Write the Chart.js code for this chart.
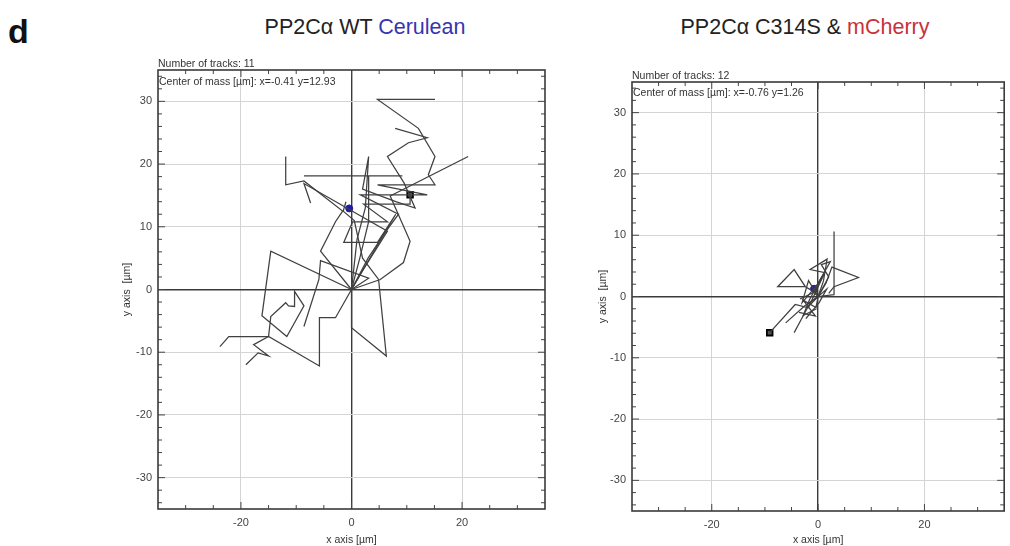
<!DOCTYPE html>
<html>
<head>
<meta charset="utf-8">
<script src="https://cdn.jsdelivr.net/npm/chart.js@4.4.1/dist/chart.umd.min.js"></script>
<style>
  body { margin:0; background:#fff; width:1010px; height:546px; position:relative; overflow:hidden;
         font-family:'Liberation Sans', Arial, sans-serif; }
  .lbl { position:absolute; white-space:nowrap; line-height:1; }
  #panel { left:8px; top:14px; font-size:34px; font-weight:bold; color:#111; }
  .title { top:17px; font-size:21.5px; color:#222; transform:translateX(-50%); }
  canvas { position:absolute; }
</style>
</head>
<body>
<div id="panel" class="lbl">d</div>
<div class="lbl title" style="left:365px">PP2Cα WT <span style="color:#3535b0">Cerulean</span></div>
<div class="lbl title" style="left:805px">PP2Cα C314S &amp; <span style="color:#c8323c">mCherry</span></div>
<canvas id="wtChart" width="443" height="506" style="left:117px;top:40px"></canvas>
<canvas id="mutChart" width="417" height="506" style="left:593px;top:40px"></canvas>
<script>
const xTicks = [-20, 0, 20];
const yTicks = [-30, -20, -10, 0, 10, 20, 30];

// WT Cerulean tracks, [x, y] in µm, every track starts at the origin
const wtTracks = [
  [[0,0],[3,5],[6,9],[8.5,12],[1.6,15.1],[13.7,15.1],[4.7,16.7],[15.1,16.7],[13.9,18.3],[15.1,21.2],[12.1,25.7],[4.7,30.3],[15.1,30.3]],
  [[0,0],[1,8],[2.5,13],[3.1,21.2],[2,16],[8,14],[11.5,13],[9.5,17],[6.5,21.2],[10.3,23.4],[13.7,24.2],[7.9,25.7]],
  [[0,0],[5.2,1.6],[9.4,4.3],[10.6,7.7],[7,14.9],[21.1,21.2]],
  [[0,0],[2,3],[6.5,9.3],[-8.6,16.9],[-7.4,13.8]],
  [[0,0],[-5.6,6.1],[-2.9,10.8],[-1.6,12.5],[-8.6,17.3],[-11.9,16.7],[-11.9,21.2]],
  [[0,0],[1.5,5],[3.1,10.8],[3.1,18.1],[9.2,18.1],[-8.6,18.1]],
  [[0,0],[8,12],[4.7,7.5],[-1.4,7.5],[0.2,10.8],[6.5,10.8],[2.2,13.6],[10.6,13.6],[10.6,15.1]],
  [[0,0],[-14.6,6.1],[-16.2,-4.2],[-11.7,-7.5],[-8.6,-2.6],[-10.3,-0.3],[-10.3,-2.7],[-11.4,-2.6],[-11.9,-2.1],[-14.6,-4.3],[-15,-7.5],[-22.2,-7.5],[-23.8,-9.1]],
  [[0,0],[-2.9,-4.5],[-5.8,-4.5],[-5.8,-12.2],[-15,-7.5],[-17.7,-8.8],[-15,-10.6],[-16.9,-10.1],[-19.1,-12]],
  [[0,0],[3.1,1.8],[-5.6,4.6],[-5.9,1.6],[-8.6,-5.9]],
  [[0,0],[0,-6.1],[6.3,-10.6],[4.9,1.6],[2,5],[0.5,11],[-1.5,12.5],[-1,14]]
];
const wtCenter = [-0.41, 12.93];
const wtEnd = [10.6, 15.1];

// C314S mCherry tracks
const mutTracks = [
  [[0,0],[-2,-1.8],[-4.3,-1.3],[-9.1,-5.9]],
  [[0,0],[-1.2,1],[-2.4,1.6],[-4.5,4.4],[-7.6,1.6],[-2.4,1.6]],
  [[0,0],[3,0.3],[3,10.6]],
  [[0,0],[1.5,2.2],[2.6,4.8],[7.6,3.1],[3,1.6],[2,0.5]],
  [[0,0],[-1.5,-1],[-3.2,-3.8],[-4.5,-5.9]],
  [[0,0],[-2.5,-1.5],[-6.1,-4.3]],
  [[0,0],[1,2.5],[1.7,6.1],[-1.5,4.4],[1.3,3.9],[-0.5,1.2]],
  [[0,0],[-0.4,-1.8],[-2.8,-0.6],[-0.5,-3.2],[-3.6,-2.6]],
  [[0,0],[2,3.2],[0.6,5.2],[2.3,5.7],[-1,0.6],[-3.4,-0.4]],
  [[0,0],[-1.8,2.6],[-3,-1],[0.6,2.7],[-1.9,-1.9]],
  [[0,0],[1.6,1.2],[0.2,-1],[-2.3,-3.6],[-1,-2.2]],
  [[0,0],[-0.5,1.4],[1,3.6],[-1.6,-0.5],[-2.8,-3.1],[-0.3,-2]]
];
const mutCenter = [-0.76, 1.26];
const mutEnd = [-9.1, -5.9];

const FONT = "'Liberation Sans', Arial, sans-serif";

// frame, inward ticks and the two info lines
const framePlugin = {
  id: 'frame',
  afterDraw(chart, args, opts) {
    const {ctx, chartArea: a, scales: {x, y}} = chart;
    ctx.save();
    ctx.strokeStyle = '#444';
    ctx.lineWidth = 1;
    ctx.beginPath();
    for (let v = -30; v <= 30; v += 5) {
      const px = x.getPixelForValue(v);
      const len = v % 20 === 0 ? 7 : 4;
      ctx.moveTo(px, a.bottom); ctx.lineTo(px, a.bottom - len);
      ctx.moveTo(px, a.top); ctx.lineTo(px, a.top + len);
    }
    for (let v = -34; v <= 34; v += 2) {
      const py = y.getPixelForValue(v);
      const len = v % 10 === 0 ? 7 : 4;
      ctx.moveTo(a.left, py); ctx.lineTo(a.left + len, py);
      ctx.moveTo(a.right, py); ctx.lineTo(a.right - len, py);
    }
    ctx.stroke();
    ctx.lineWidth = 1.6;
    ctx.strokeStyle = '#3a3a3a';
    ctx.strokeRect(a.left, a.top, a.right - a.left, a.bottom - a.top);
    ctx.fillStyle = '#333';
    ctx.font = '10.5px ' + FONT;
    ctx.textBaseline = 'alphabetic';
    ctx.fillText('Number of tracks: ' + opts.count, a.left, a.top - 3);
    ctx.fillText('Center of mass [µm]: x=' + opts.cx + ' y=' + opts.cy, a.left + 1, a.top + opts.dy);
    ctx.restore();
  }
};

function makeChart(id, tracks, center, end, pad, yWidth, xHeight, info) {
  const datasets = tracks.map(t => ({
    data: t.map(p => ({x: p[0], y: p[1]})),
    showLine: true,
    borderColor: '#404040',
    borderWidth: 1.25,
    pointRadius: 0,
    tension: 0
  }));
  datasets.push({
    data: [{x: end[0], y: end[1]}],
    pointStyle: 'rect', pointRadius: 4,
    backgroundColor: '#555', borderColor: '#000', borderWidth: 1.8
  });
  datasets.push({
    data: [{x: center[0], y: center[1]}],
    pointStyle: 'circle', pointRadius: 3.5,
    backgroundColor: '#1c1ca8', borderColor: '#1c1ca8', borderWidth: 1
  });

  const gridColor = c => (c.tick && c.tick.value === 0) ? '#3a3a3a' : '#d4d4d4';
  const gridWidth = c => (c.tick && c.tick.value === 0) ? 1.4 : 1;

  return new Chart(document.getElementById(id), {
    type: 'scatter',
    data: {datasets},
    plugins: [framePlugin],
    options: {
      responsive: false,
      animation: false,
      layout: {padding: pad},
      plugins: {legend: {display: false}, tooltip: {enabled: false}, frame: info},
      scales: {
        x: {
          type: 'linear', min: -35, max: 35,
          afterBuildTicks: s => { s.ticks = xTicks.map(v => ({value: v})); },
          afterFit: s => { s.height = xHeight; },
          grid: {color: gridColor, lineWidth: gridWidth, drawTicks: false},
          border: {display: false},
          ticks: {padding: 7, color: '#444', maxRotation: 0, font: {size: 11, family: FONT}},
          title: {display: true, text: 'x axis [µm]', color: '#333', padding: {top: 0, bottom: 0}, font: {size: 10.5, family: FONT}}
        },
        y: {
          type: 'linear', min: -35, max: 35,
          afterBuildTicks: s => { s.ticks = yTicks.map(v => ({value: v})); },
          afterFit: s => { s.width = yWidth; },
          grid: {color: gridColor, lineWidth: gridWidth, drawTicks: false},
          border: {display: false},
          ticks: {padding: 6, color: '#444', font: {size: 11, family: FONT}},
          title: {display: true, text: 'y axis  [µm]', color: '#333', padding: {top: 3.5, bottom: 0}, font: {size: 10.5, family: FONT}}
        }
      }
    }
  });
}

makeChart('wtChart', wtTracks, wtCenter, wtEnd, {top: 30, right: 15, left: 0, bottom: 0}, 41, 37,
  {count: 11, cx: '-0.41', cy: '12.93', dy: 15});
makeChart('mutChart', mutTracks, mutCenter, mutEnd, {top: 42, right: 2, left: 0, bottom: 0}, 39, 35,
  {count: 12, cx: '-0.76', cy: '1.26', dy: 14});
</script>
</body>
</html>
